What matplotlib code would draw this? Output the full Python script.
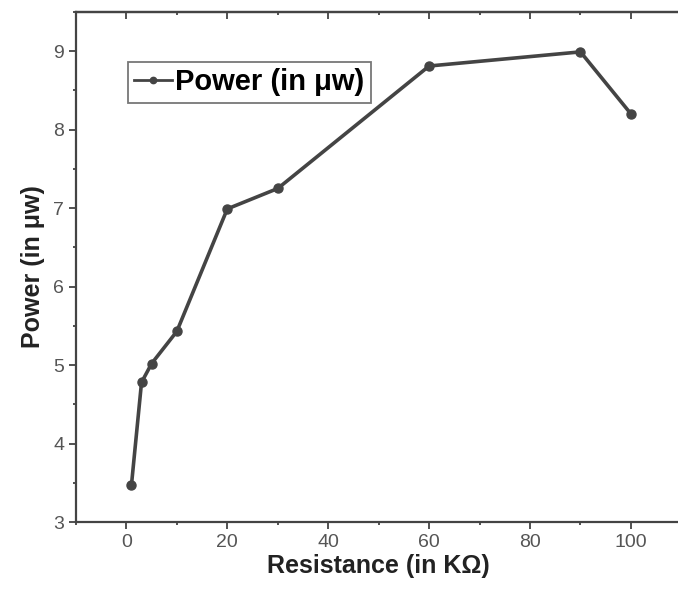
import matplotlib.pyplot as plt
from matplotlib.ticker import MultipleLocator

plt.rcParams['font.family'] = ['Liberation Sans', 'DejaVu Sans']

# resistance (kOhm) and power (uW)
resistance = [1, 3, 5, 10, 20, 30, 60, 90, 100]
power = [3.47, 4.78, 5.02, 5.43, 6.99, 7.25, 8.81, 8.99, 8.2]

fig = plt.figure(figsize=(6.78, 5.92), dpi=100)
ax = fig.add_axes([0.112, 0.118, 0.893, 0.862])

ax.plot(resistance, power, color='#444444', lw=2.6, marker='o', ms=6.5,
        label='Power (in μw)')

ax.set_xlim(-10, 110)
ax.set_ylim(3, 9.5)
ax.xaxis.set_major_locator(MultipleLocator(20))
ax.xaxis.set_minor_locator(MultipleLocator(10))
ax.yaxis.set_major_locator(MultipleLocator(1))
ax.yaxis.set_minor_locator(MultipleLocator(0.5))

ax.tick_params(which='both', direction='out', color='#333333', width=1.2,
               labelsize=14, labelcolor='#555555', top=False, right=False)
ax.tick_params(which='major', length=5)
ax.tick_params(which='minor', length=2.5)

# top axis: ticks pointing in, no labels
top = ax.secondary_xaxis('top')
top.xaxis.set_major_locator(MultipleLocator(20))
top.xaxis.set_minor_locator(MultipleLocator(10))
top.tick_params(which='both', direction='in', color='#333333', width=1.2,
                labeltop=False)
top.tick_params(which='major', length=5)
top.tick_params(which='minor', length=2.5)
top.spines['top'].set_linewidth(1.6)
top.spines['top'].set_color('#444444')

for s in ax.spines.values():
    s.set_linewidth(1.6)
    s.set_color('#444444')

ax.set_xlabel('Resistance (in KΩ)', fontsize=18, fontweight='bold', color='#222222', labelpad=2)
ax.set_ylabel('Power (in μw)', fontsize=18, fontweight='bold', color='#222222', labelpad=6)

leg = ax.legend(loc='upper left', bbox_to_anchor=(0.086, 0.902),
                prop={'weight': 'bold', 'size': 21}, fancybox=False,
                handlelength=1.3, handletextpad=0.1, borderpad=0.22,
                borderaxespad=0, markerscale=0.7)
leg.get_frame().set_edgecolor('#555555')
leg.get_frame().set_linewidth(1.3)
leg.get_lines()[0].set_linewidth(2)

fig.savefig('out.png', dpi=100)
